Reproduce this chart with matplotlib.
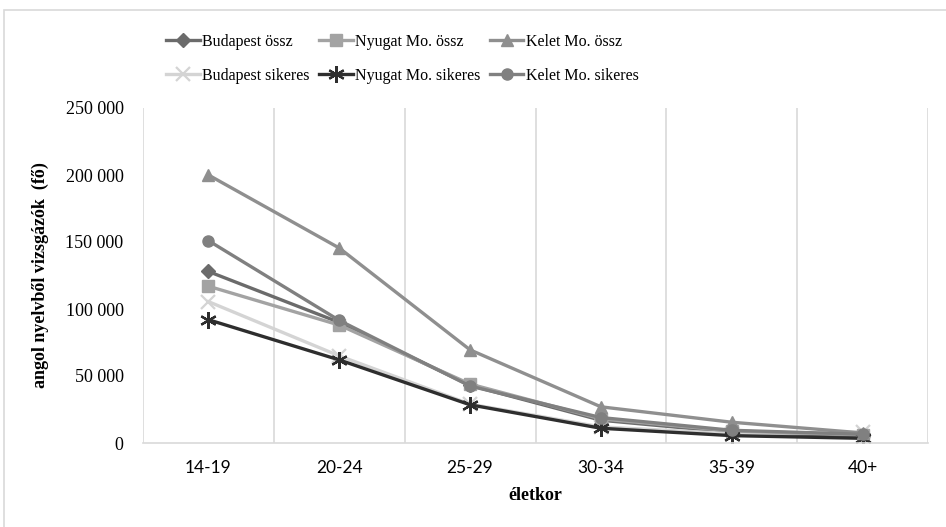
import matplotlib.pyplot as plt
from matplotlib.patches import Rectangle
from matplotlib.ticker import FuncFormatter

age_groups = ["14-19", "20-24", "25-29", "30-34", "35-39", "40+"]

budapest_ossz = [128000, 90000, 43000, 17000, 8000, 5000]
nyugat_ossz = [117000, 88000, 44000, 18000, 9000, 6000]
kelet_ossz = [200000, 145500, 69500, 27000, 15500, 7500]
budapest_sikeres = [105500, 65000, 29000, 12000, 7000, 8000]
nyugat_sikeres = [92000, 62000, 28500, 11000, 5500, 3500]
kelet_sikeres = [151000, 91500, 42500, 19000, 9500, 6500]

series = [
    ("Budapest össz", budapest_ossz, "#6b6b6b", "D", 7),
    ("Budapest sikeres", budapest_sikeres, "#d4d4d4", "x", 10),
    ("Nyugat Mo. össz", nyugat_ossz, "#a3a3a3", "s", 8),
    ("Nyugat Mo. sikeres", nyugat_sikeres, "#2e2e2e", (6, 2, 0), 12),
    ("Kelet Mo. össz", kelet_ossz, "#8f8f8f", "^", 9),
    ("Kelet Mo. sikeres", kelet_sikeres, "#808080", "o", 8),
]

fig = plt.figure(figsize=(9.46, 5.27), dpi=100)
fig.patches.append(Rectangle((4 / 946, -0.05), 1.1, 1.05 - 10 / 527,
                             transform=fig.transFigure, fill=False,
                             edgecolor="#d9d9d9", linewidth=1.2))
ax = fig.add_axes([143 / 946, 84 / 527, 785 / 946, 335 / 527])

x = range(len(age_groups))
for name, vals, color, marker, ms in series:
    ax.plot(x, vals, color=color, linewidth=2.4, marker=marker,
            markersize=ms, markeredgewidth=1.6 if marker in ("x", (6, 2, 0)) else 1,
            label=name)

ax.set_xlim(-0.5, len(age_groups) - 0.5)
ax.set_ylim(0, 250000)
ax.set_yticks(range(0, 250001, 50000))
ax.yaxis.set_major_formatter(FuncFormatter(lambda v, p: f"{int(v):,}".replace(",", " ")))
ax.set_xticks(list(x))
ax.set_xticklabels(age_groups, family="Lato", fontsize=12.5)
for lab in ax.get_yticklabels():
    lab.set_family("Liberation Serif")
    lab.set_fontsize(13)

for b in [i - 0.5 for i in range(len(age_groups) + 1)]:
    ax.axvline(b, color="#d9d9d9", linewidth=1.2, zorder=0)

for s in ["top", "right", "left"]:
    ax.spines[s].set_visible(False)
ax.spines["bottom"].set_color("#d9d9d9")
ax.spines["bottom"].set_linewidth(1.2)
ax.tick_params(length=0, pad=12)
ax.tick_params(axis="y", pad=14)

ax.set_xlabel("életkor", family="Liberation Serif", fontweight="bold",
              fontsize=13, labelpad=8)
ax.set_ylabel("angol nyelvből vizsgázók  (fő)", family="Liberation Serif",
              fontweight="bold", fontsize=13, labelpad=12)

fig.legend(*ax.get_legend_handles_labels(), ncol=3, loc="upper left",
           bbox_to_anchor=(166 / 946, 1 - 34 / 527), borderaxespad=0,
           borderpad=0, frameon=False,
           prop={"family": "Liberation Serif", "size": 11.5},
           handlelength=2.1, handletextpad=0.15, columnspacing=0.6,
           labelspacing=1.1)

fig.savefig("out.png", dpi=100)
